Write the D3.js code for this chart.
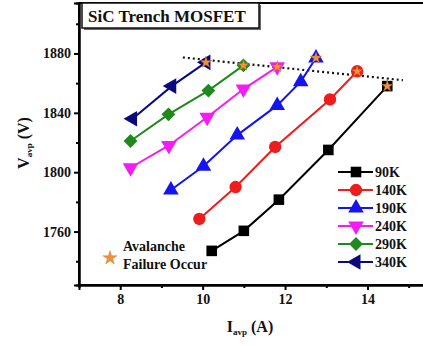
<!DOCTYPE html>
<html>
<head>
<meta charset="utf-8">
<script src="https://cdn.jsdelivr.net/npm/d3@7"></script>
<style>
  html, body { margin: 0; padding: 0; background: #fff; }
  svg { display: block; }
  text { font-family: "Liberation Serif", "DejaVu Serif", serif; font-weight: bold; fill: #111; }
</style>
</head>
<body>
<svg id="chart" width="423" height="346"></svg>
<script>
// Avalanche voltage vs. avalanche current at several temperatures
const series = ["90K", "140K", "190K", "240K", "290K", "340K"];
const current90 = [10.22, 11.0, 11.85, 13.05, 14.48];
const voltage90 = [1747, 1760.5, 1781.5, 1815, 1858];
const current140 = [9.92, 10.8, 11.76, 13.09, 13.75];
const voltage140 = [1768.5, 1790, 1817, 1849, 1868];
const current190 = [9.23, 10.02, 10.84, 11.81, 12.38, 12.75];
const voltage190 = [1788, 1804, 1825, 1845, 1861, 1877];
const current240 = [8.25, 9.18, 10.11, 10.99, 11.81];
const voltage240 = [1803, 1818, 1837, 1856, 1871];
const current290 = [8.25, 9.17, 10.14, 10.99];
const voltage290 = [1821, 1839, 1855, 1872];
const current340 = [8.3, 9.25, 10.08];
const voltage340 = [1836, 1858, 1874];
// failure boundary (dotted trend through the last points)
const boundaryCurrent = [9.52, 14.86];
const boundaryVoltage = [1877.3, 1862];

const xTicks = [8, 10, 12, 14];
const xMinorTicks = [9, 11, 13, 15];
const yTicks = [1760, 1800, 1840, 1880];
const yMinorTicks = [1740, 1780, 1820, 1860, 1900];

const currents = [current90, current140, current190, current240, current290, current340];
const voltages = [voltage90, voltage140, voltage190, voltage240, voltage290, voltage340];
const colors = ["#000000", "#ee1c1c", "#1414f0", "#f41cf4", "#1e8a1e", "#0a0a80"];
const shapes = ["square", "circle", "triangleUp", "triangleDown", "diamond", "triangleLeft"];

const svg = d3.select("#chart");
const L = 79, R = 426, T = 3, B = 285;
const x = d3.scaleLinear().domain([7, 15.42]).range([L, R]);
const y = d3.scaleLinear().domain([1724, 1914]).range([B, T]);

function markerPath(shape) {
  switch (shape) {
    case "square": return d3.symbol(d3.symbolSquare, 112)();
    case "circle": return d3.symbol(d3.symbolCircle, 120)();
    case "diamond": return d3.symbol(d3.symbolSquare, 96)();
    default: return d3.symbol(d3.symbolTriangle, 105)();
  }
}
function markerRotate(shape) {
  if (shape === "triangleDown") return 180;
  if (shape === "triangleLeft") return -90;
  if (shape === "diamond") return 45;
  return 0;
}

// plot frame
svg.append("rect").attr("x", L).attr("y", T).attr("width", R - L).attr("height", B - T)
  .attr("fill", "none").attr("stroke", "#000").attr("stroke-width", 2);

// axes
const xAxis = d3.axisBottom(x).tickValues(xTicks).tickSize(5).tickPadding(4).tickFormat(d3.format("d"));
const xMinor = d3.axisBottom(x).tickValues(xMinorTicks).tickSize(3).tickFormat("");
const yAxis = d3.axisLeft(y).tickValues(yTicks).tickSize(5).tickPadding(3).tickFormat(d3.format("d"));
const yMinor = d3.axisLeft(y).tickValues(yMinorTicks).tickSize(3).tickFormat("");

function styleAxis(g) {
  g.select(".domain").attr("stroke", "#000").attr("stroke-width", 2);
  g.selectAll(".tick line").attr("stroke", "#000").attr("stroke-width", 2);
  g.selectAll(".tick text").attr("font-size", 14).attr("font-family", "Liberation Serif, serif")
    .attr("font-weight", "bold").attr("fill", "#111");
}
svg.append("g").attr("transform", `translate(0,${B})`).call(xAxis).call(styleAxis);
svg.append("g").attr("transform", `translate(0,${B})`).call(xMinor).call(styleAxis);
svg.append("g").attr("transform", `translate(${L},0)`).call(yAxis).call(styleAxis);
svg.append("g").attr("transform", `translate(${L},0)`).call(yMinor).call(styleAxis);

// axis titles
const xt = svg.append("text").attr("x", 250).attr("y", 332).attr("text-anchor", "middle").attr("font-size", 16);
xt.append("tspan").text("I");
xt.append("tspan").attr("font-size", 9).attr("dy", 3).text("avp");
xt.append("tspan").attr("dy", -3).text(" (A)");

const yt = svg.append("text").attr("transform", "translate(29,143) rotate(-90)")
  .attr("text-anchor", "middle").attr("font-size", 16);
yt.append("tspan").text("V");
yt.append("tspan").attr("font-size", 9).attr("dy", 3).text("avp");
yt.append("tspan").attr("dy", -3).text(" (V)");

// dotted failure boundary
svg.append("path")
  .datum(boundaryCurrent.map((c, i) => [c, boundaryVoltage[i]]))
  .attr("d", d3.line().x(d => x(d[0])).y(d => y(d[1])))
  .attr("fill", "none").attr("stroke", "#111").attr("stroke-width", 2.2)
  .attr("stroke-dasharray", "2,3");

const line = d3.line().x(d => x(d[0])).y(d => y(d[1]));
const star = d3.symbol(d3.symbolStar, 42)();

series.forEach((name, i) => {
  const pts = currents[i].map((c, j) => [c, voltages[i][j]]);
  const g = svg.append("g");
  g.append("path").datum(pts).attr("d", line)
    .attr("fill", "none").attr("stroke", colors[i]).attr("stroke-width", 2);
  g.selectAll("path.m").data(pts).join("path").attr("class", "m")
    .attr("d", markerPath(shapes[i]))
    .attr("transform", d => `translate(${x(d[0])},${y(d[1])}) rotate(${markerRotate(shapes[i])})`)
    .attr("fill", colors[i]);
  // avalanche failure at the last point
  const last = pts[pts.length - 1];
  g.append("path").attr("d", star)
    .attr("transform", `translate(${x(last[0])},${y(last[1])})`)
    .attr("fill", "#f0913a").attr("stroke", "#9a5a20").attr("stroke-width", 0.4);
});

// series legend
const lg = svg.append("g");
series.forEach((name, i) => {
  const ly = 172 + i * 18;
  lg.append("line").attr("x1", 338).attr("x2", 373).attr("y1", ly).attr("y2", ly)
    .attr("stroke", colors[i]).attr("stroke-width", 2);
  lg.append("path").attr("d", markerPath(shapes[i]))
    .attr("transform", `translate(356,${ly}) rotate(${markerRotate(shapes[i])})`)
    .attr("fill", colors[i]);
  lg.append("text").attr("x", 375).attr("y", ly + 5).attr("font-size", 14).text(name);
});

// avalanche failure note
svg.append("path").attr("d", d3.symbol(d3.symbolStar, 60)())
  .attr("transform", "translate(110,258)")
  .attr("fill", "#f0913a").attr("stroke", "#c06a20").attr("stroke-width", 0.4);
svg.append("text").attr("x", 123).attr("y", 251).attr("font-size", 14).text("Avalanche");
svg.append("text").attr("x", 123).attr("y", 269).attr("font-size", 14).text("Failure Occur");

// title box
svg.append("rect").attr("x", 84).attr("y", 5).attr("width", 177).attr("height", 25).attr("fill", "#666");
svg.append("rect").attr("x", 82).attr("y", 3).attr("width", 177).attr("height", 25)
  .attr("fill", "#fff").attr("stroke", "#111").attr("stroke-width", 1.5);
svg.append("text").attr("x", 88).attr("y", 22).attr("font-size", 17).text("SiC Trench MOSFET");
</script>
</body>
</html>
